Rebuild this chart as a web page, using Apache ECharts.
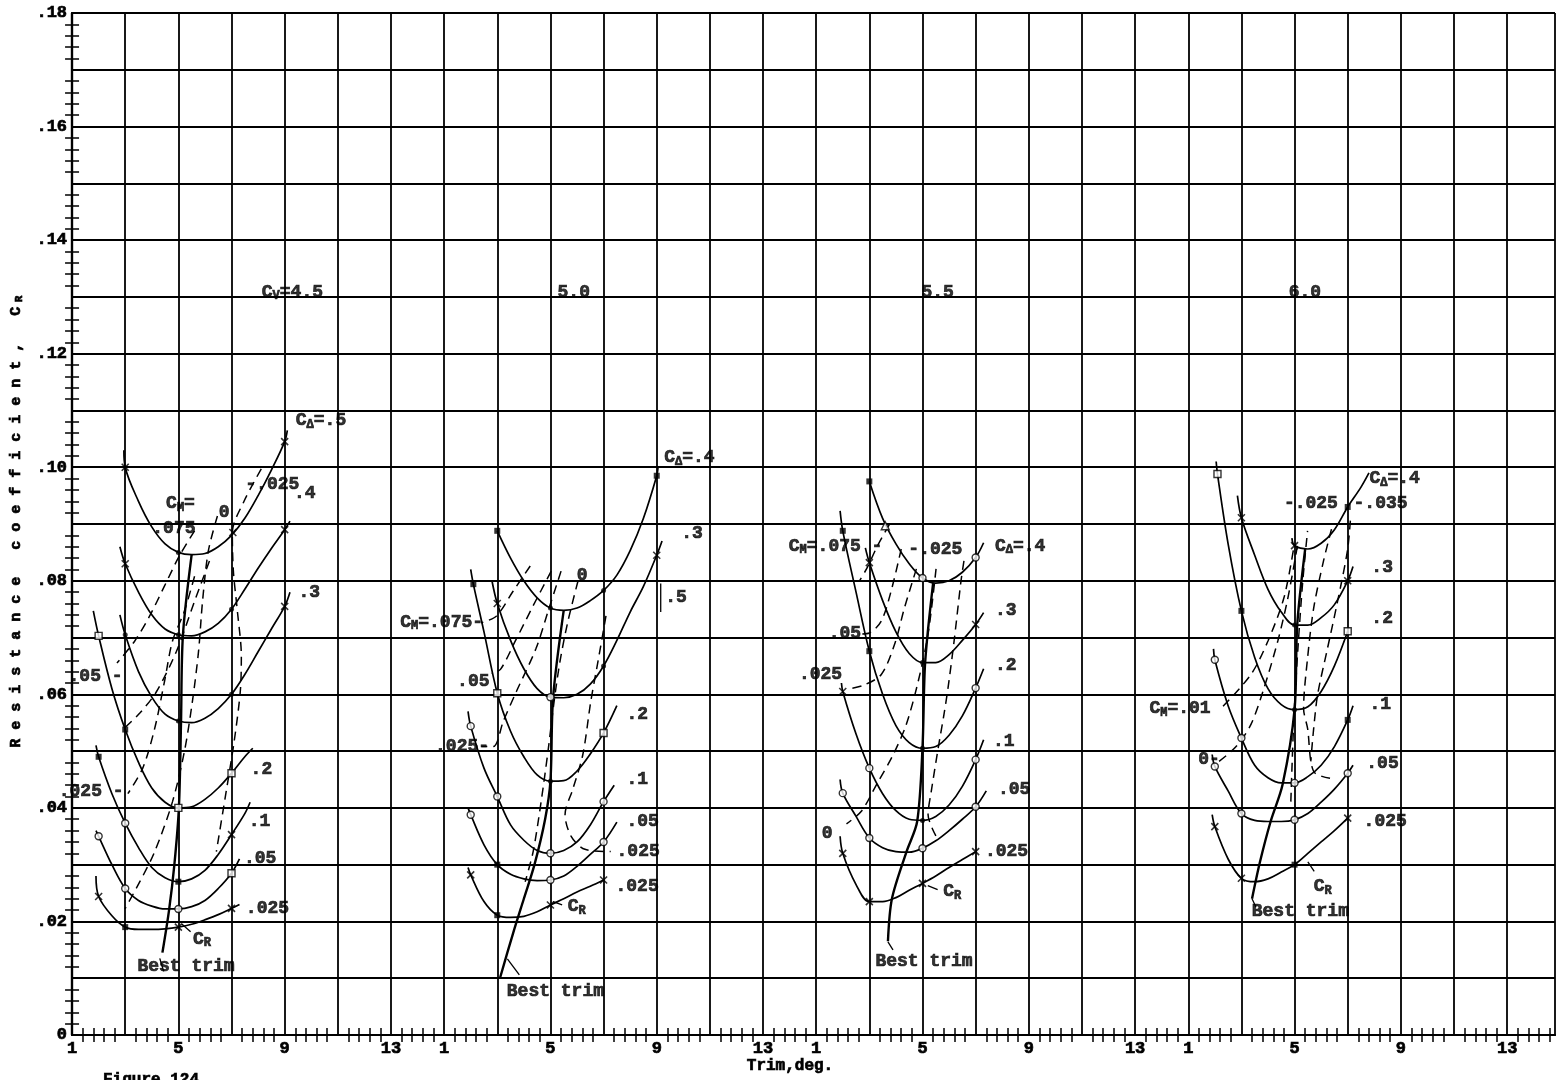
<!DOCTYPE html>
<html><head><meta charset="utf-8">
<script src="https://cdn.jsdelivr.net/npm/echarts/dist/echarts.min.js"></script>
<style>html,body{margin:0;background:#fff}#c{width:1561px;height:1080px}</style>
</head><body><div id="c"></div>
<script>
// ---------- DATA (trim deg, resistance coefficient C_R) ----------
// Panel 1 : C_V = 4.5   solid curves by C_Delta
const p1_d5   = [[2.95,0.103],[3,0.100],[3.5,0.094],[4,0.0895],[4.5,0.0865],[5,0.085],[5.5,0.0846],[6,0.0848],[6.5,0.086],[7,0.088],[7.5,0.091],[8,0.095],[8.5,0.0995],[9,0.1045],[9.1,0.1065]];
const p1_d4   = [[2.8,0.086],[3,0.083],[3.5,0.078],[4,0.074],[4.5,0.0715],[5,0.0705],[5.5,0.0703],[6,0.071],[6.5,0.0725],[7,0.075],[7.5,0.0785],[8,0.0822],[8.5,0.0857],[9,0.089],[9.2,0.0905]];
const p1_d3   = [[2.8,0.074],[3,0.0705],[3.5,0.064],[4,0.0595],[4.5,0.0565],[5,0.0553],[5.5,0.055],[6,0.0558],[6.5,0.0575],[7,0.060],[7.5,0.0635],[8,0.0675],[8.5,0.0715],[9,0.0755],[9.2,0.078]];
const p1_d2   = [[1.8,0.0747],[2,0.0703],[2.5,0.061],[3,0.0538],[3.5,0.048],[4,0.0435],[4.5,0.041],[5,0.040],[5.5,0.0402],[6,0.0415],[6.5,0.0435],[7,0.0461],[7.5,0.049],[7.8,0.0505]];
const p1_d1   = [[1.9,0.051],[2,0.049],[2.5,0.0425],[3,0.0373],[3.5,0.033],[4,0.0295],[4.5,0.0277],[5,0.027],[5.5,0.0275],[6,0.029],[6.5,0.0318],[7,0.0353],[7.5,0.039],[7.7,0.041]];
const p1_d05  = [[1.9,0.036],[2,0.035],[2.5,0.030],[3,0.0258],[3.5,0.0237],[4,0.0227],[4.5,0.0222],[5,0.0222],[5.5,0.0226],[6,0.0237],[6.5,0.0258],[7,0.0285],[7.3,0.031]];
const p1_d025 = [[1.9,0.028],[2,0.0244],[2.5,0.021],[3,0.019],[3.5,0.0186],[4,0.0186],[4.5,0.0187],[5,0.019],[5.5,0.0195],[6,0.0203],[6.5,0.0212],[7,0.0223],[7.3,0.023]];
const p1_best = [[4.4,0.0145],[4.65,0.022],[4.85,0.030],[5.02,0.040],[5.1,0.055],[5.17,0.0703],[5.5,0.0846]];
const p1_mA   = [[8.12,0.0997],[7.48,0.0941],[7.03,0.0885],[7.07,0.0817],[7.22,0.0747],[7.37,0.0667],[7.33,0.0605],[7.1,0.0517],[6.8,0.0429],[6.43,0.0323]];
const p1_mB   = [[6.47,0.0914],[6.13,0.0853],[5.91,0.0764],[5.76,0.0676],[5.53,0.0588],[5.23,0.050],[4.78,0.0411],[4.11,0.0323],[3.55,0.027],[2.99,0.0222]];
const p1_mC   = [[5.61,0.0888],[5.04,0.0844],[4.48,0.0791],[3.92,0.0738],[3.36,0.0694],[2.69,0.0655]];
const p1_mD   = [[6.17,0.0835],[5.61,0.0764],[4.93,0.0676],[4.18,0.0605],[3.55,0.0567],[2.91,0.0538]];
const p1_mE   = [[5.61,0.0808],[5.23,0.0747],[4.78,0.0694],[4.48,0.0623],[4.11,0.054],[3.66,0.047],[3.1,0.0425]];
const p1_marks = [[3,0.100,'x'],[5,0.085,'f'],[7.05,0.0885,'x'],[9,0.1045,'x'],[3,0.083,'x'],[5,0.0705,'f'],[7,0.075,'f'],[9,0.089,'x'],
  [3,0.0705,'f'],[5,0.0553,'f'],[7,0.060,'f'],[9,0.0755,'x'],[2,0.0703,'os'],[3,0.0538,'s'],[5,0.040,'os'],[7,0.0461,'os'],
  [2,0.049,'s'],[3,0.0373,'o'],[5,0.027,'s'],[7,0.0353,'x'],[2,0.035,'o'],[3,0.0258,'o'],[5,0.0222,'o'],[7,0.0285,'os'],
  [2,0.0244,'x'],[3,0.019,'s'],[5,0.019,'x'],[7,0.0223,'x']];
const p1_labels = [[8.12,0.1308,'C_V=4.5'],[9.4,0.1082,'C_Δ=.5'],[7.5,0.0969,'-.025'],[4.52,0.0936,'C_M='],[4.0,0.0893,'.075'],[6.5,0.092,'0'],
  [9.33,0.0953,'.4'],[9.5,0.078,'.3'],[0.85,0.0632,'.05 -'],[0.48,0.0429,'.025 -'],[7.7,0.0468,'.2'],[7.63,0.0376,'.1'],
  [7.45,0.0311,'.05'],[7.52,0.0222,'.025'],[5.53,0.0169,'C_R'],[3.44,0.012,'Best trim']];
const p1_leaders = [[[5.46,0.0182],[5.12,0.0196]],[[4.3,0.0135],[4.45,0.0112]]];

// Panel 2 : C_V = 5.0
const p2_d4   = [[3,0.0888],[3.5,0.084],[4,0.080],[4.5,0.077],[5,0.0752],[5.5,0.0748],[6,0.0752],[6.5,0.0765],[7,0.0783],[7.5,0.081],[8,0.0853],[8.5,0.091],[9,0.0985],[9.05,0.100]];
const p2_d3   = [[2.8,0.080],[3,0.076],[3.5,0.0695],[4,0.0645],[4.5,0.061],[5,0.0595],[5.5,0.0594],[6,0.060],[6.5,0.0618],[7,0.065],[7.5,0.0695],[8,0.0745],[8.5,0.079],[9,0.0845],[9.2,0.087]];
const p2_d2   = [[2,0.082],[2.1,0.0794],[2.5,0.071],[3,0.0602],[3.5,0.0535],[4,0.049],[4.5,0.0458],[5,0.0447],[5.5,0.0448],[6,0.0465],[6.5,0.0495],[7,0.0532],[7.5,0.058]];
const p2_d1   = [[1.9,0.057],[2,0.0544],[2.5,0.047],[3,0.042],[3.5,0.037],[4,0.0343],[4.5,0.0325],[5,0.032],[5.5,0.0325],[6,0.034],[6.5,0.037],[7,0.0411],[7.4,0.044]];
const p2_d05  = [[1.9,0.040],[2,0.0388],[2.5,0.0335],[3,0.030],[3.5,0.0283],[4,0.0275],[4.5,0.0272],[5,0.0273],[5.5,0.028],[6,0.0297],[6.5,0.0318],[7,0.034],[7.5,0.0375]];
const p2_d025 = [[1.9,0.0295],[2,0.0282],[2.5,0.0235],[3,0.0211],[3.5,0.0207],[4,0.0209],[4.5,0.0217],[5,0.0229],[5.5,0.024],[6,0.0252],[6.5,0.0262],[7,0.0273]];
const p2_best = [[3.1,0.010],[3.6,0.018],[4.0,0.024],[4.4,0.030],[4.8,0.038],[5.0,0.0447],[5.1,0.0594],[5.5,0.0748]];
const p2_mA   = [[4.24,0.0826],[3.6,0.0782],[2.97,0.0738],[2.4,0.0726]];
const p2_mB   = [[5.03,0.0817],[4.35,0.0756],[3.68,0.0694],[3.12,0.0644],[2.78,0.0637]];
const p2_mC   = [[5.4,0.0817],[4.95,0.0752],[4.46,0.0681],[3.72,0.0605],[3.23,0.0553],[2.85,0.0508],[2.4,0.0508]];
const p2_mD   = [[6.04,0.080],[5.66,0.0729],[5.36,0.0658],[5.14,0.0588],[4.91,0.050],[4.65,0.0411],[4.35,0.0323],[4.05,0.027]];
const p2_mE   = [[7.09,0.0738],[6.79,0.0658],[6.52,0.0588],[6.22,0.0494],[5.85,0.0434],[5.55,0.0388],[5.78,0.035],[6.3,0.0327],[7.27,0.0323]];
const p2_marks = [[3,0.0888,'s'],[5,0.0752,'f'],[7,0.0783,'f'],[9,0.0985,'s'],[3,0.076,'x'],[5,0.0595,'o'],[7,0.065,'f'],[9,0.0845,'x'],
  [2.1,0.0794,'s'],[3,0.0602,'os'],[5,0.0447,'f'],[7,0.0532,'os'],[2,0.0544,'o'],[3,0.042,'o'],[5,0.032,'o'],[7,0.0411,'o'],
  [2,0.0388,'o'],[3,0.030,'s'],[5,0.0273,'o'],[7,0.034,'o'],[2,0.0282,'x'],[3,0.0211,'s'],[5,0.0229,'x'],[7,0.0273,'x']];
const p2_labels = [[5.25,0.1308,'5.0'],[9.26,0.1017,'C_Δ=.4'],[9.9,0.0883,'.3'],[9.3,0.077,'.5'],[5.97,0.081,'0'],[-0.67,0.0727,'C_M=.075-'],
  [1.47,0.0623,'.05'],[0.64,0.0508,'.025-'],[7.84,0.0565,'.2'],[7.84,0.045,'.1'],[7.84,0.0376,'.05'],[7.47,0.0323,'.025'],
  [7.43,0.0261,'.025'],[5.63,0.0226,'C_R'],[3.34,0.0076,'Best trim']];
const p2_leaders = [[[5.44,0.0229],[5.1,0.0235]],[[3.38,0.0134],[3.83,0.0106]],[[9.15,0.0795],[9.15,0.0745]]];

// Panel 3 : C_V = 5.5
const p3_d4   = [[3,0.0975],[3.5,0.091],[4,0.0865],[4.5,0.083],[5,0.0805],[5.5,0.0796],[6,0.080],[6.5,0.0815],[7,0.0841],[7.3,0.0867]];
const p3_d3   = [[2.85,0.0858],[3,0.0832],[3.5,0.0765],[4,0.071],[4.5,0.0672],[5,0.0656],[5.5,0.0656],[6,0.067],[6.5,0.0695],[7,0.0723],[7.3,0.0744]];
const p3_d2   = [[1.9,0.0923],[2,0.0888],[2.5,0.078],[3,0.0676],[3.5,0.060],[4,0.0545],[4.5,0.0515],[5,0.0505],[5.5,0.0508],[6,0.0528],[6.5,0.0562],[7,0.0611],[7.3,0.0645]];
const p3_d1   = [[1.95,0.062],[2,0.0605],[2.5,0.053],[3,0.047],[3.5,0.0425],[4,0.0395],[4.5,0.038],[5,0.0378],[5.5,0.0385],[6,0.0405],[6.5,0.0438],[7,0.0485],[7.3,0.052]];
const p3_d05  = [[1.9,0.045],[2,0.0426],[2.5,0.0385],[3,0.0347],[3.5,0.033],[4,0.0323],[4.5,0.0322],[5,0.0329],[5.5,0.0342],[6,0.036],[6.5,0.038],[7,0.0402],[7.4,0.043]];
const p3_d025 = [[1.9,0.035],[2,0.032],[2.5,0.0265],[3,0.0235],[3.5,0.0235],[4,0.0242],[4.5,0.0255],[5,0.0267],[5.5,0.028],[6,0.0295],[6.5,0.0309],[7,0.0323]];
const p3_best = [[3.7,0.0165],[3.85,0.024],[4.4,0.0323],[4.8,0.0376],[5.0,0.0505],[5.1,0.0656],[5.4,0.0796]];
const p3_mA   = [[3.75,0.0899],[3.3,0.0861],[2.93,0.0824],[2.63,0.080]];
const p3_mB   = [[4.2,0.0856],[3.82,0.0782],[3.45,0.0729],[3.0,0.0708],[2.63,0.0706]];
const p3_mC   = [[4.77,0.0821],[4.32,0.0752],[3.95,0.0688],[3.45,0.0635],[2.78,0.0616],[2.14,0.0609]];
const p3_mD   = [[5.51,0.0821],[5.21,0.0706],[4.84,0.0623],[4.39,0.0547],[3.9,0.0494],[3.27,0.0441],[2.7,0.0394],[2.14,0.0372]];
const p3_mE   = [[6.56,0.0835],[6.45,0.080],[6.19,0.0694],[5.96,0.0611],[5.81,0.0565],[5.59,0.0505],[5.33,0.0429],[5.21,0.0388],[5.51,0.035]];
const p3_marks = [[3,0.0975,'s'],[3.6,0.0897,'t'],[5,0.0805,'o'],[7,0.0841,'o'],[3,0.0832,'x'],[5,0.0656,'f'],[7,0.0723,'x'],
  [2,0.0888,'s'],[3,0.0676,'s'],[5,0.0505,'f'],[7,0.0611,'o'],[2,0.0605,'x'],[3,0.047,'o'],[5,0.0378,'f'],[7,0.0485,'o'],
  [2,0.0426,'o'],[3,0.0347,'o'],[5,0.0329,'o'],[7,0.0402,'o'],[2,0.032,'x'],[3,0.0235,'x'],[5,0.0267,'x'],[7,0.0323,'x']];
const p3_labels = [[4.94,0.1308,'5.5'],[7.71,0.0861,'C_Δ=.4'],[4.45,0.0856,'-.025'],[-0.05,0.0861,'C_M=.075 -'],[7.71,0.0748,'.3'],
  [1.45,0.0708,'.05'],[0.33,0.0635,'.025'],[7.71,0.065,'.2'],[7.63,0.0517,'.1'],[7.82,0.0432,'.05'],[1.19,0.0355,'0'],
  [7.33,0.0323,'.025'],[5.76,0.0252,'C_R'],[3.21,0.0129,'Best trim']];
const p3_leaders = [[[5.57,0.0256],[5.2,0.0263]],[[3.7,0.0164],[3.89,0.0150]]];

// Panel 4 : C_V = 6.0
const p4_d4   = [[4.9,0.0875],[5,0.0862],[5.5,0.0856],[6,0.0866],[6.5,0.089],[7,0.093],[7.5,0.0965],[7.8,0.099]];
const p4_d3   = [[2.85,0.095],[3,0.0911],[3.5,0.0845],[4,0.0785],[4.5,0.0745],[5,0.0722],[5.5,0.0722],[6,0.0735],[6.5,0.0758],[7,0.080],[7.2,0.0825]];
const p4_d2   = [[2.05,0.101],[2.1,0.0988],[2.5,0.0865],[3,0.0747],[3.5,0.0665],[4,0.061],[4.5,0.0582],[5,0.0573],[5.5,0.0578],[6,0.0605],[6.5,0.065],[7,0.0711]];
const p4_d1   = [[1.95,0.068],[2,0.0661],[2.5,0.058],[3,0.0523],[3.5,0.0475],[4,0.0453],[4.5,0.0444],[5,0.0444],[5.5,0.0455],[6,0.0475],[6.5,0.0508],[7,0.0555],[7.2,0.058]];
const p4_d05  = [[1.9,0.0494],[2,0.0473],[2.5,0.043],[3,0.039],[3.5,0.0378],[4,0.0376],[4.5,0.0376],[5,0.0379],[5.5,0.039],[6,0.041],[6.5,0.0433],[7,0.0461],[7.2,0.0475]];
const p4_d025 = [[1.9,0.0388],[2,0.0367],[2.5,0.031],[3,0.0276],[3.5,0.027],[4,0.0275],[4.5,0.0287],[5,0.030],[5.5,0.032],[6,0.034],[6.5,0.036],[7,0.0382]];
const p4_best = [[3.4,0.024],[3.7,0.0305],[4.1,0.0376],[4.55,0.0441],[5.0,0.0573],[5.1,0.0722],[5.4,0.0856]];
const p4_mA   = [[2.31,0.0579],[3.36,0.0635],[4.0,0.0694],[4.6,0.077],[4.97,0.0858]];
const p4_mB   = [[2.16,0.0482],[2.8,0.0508],[3.36,0.0547],[3.85,0.0611],[4.37,0.0694],[4.75,0.077],[5.12,0.0865]];
const p4_mC   = [[4.86,0.0411],[4.97,0.0553],[5.12,0.0676],[5.31,0.080],[5.49,0.0888]];
const p4_mD   = [[6.39,0.0891],[6.09,0.0835],[5.72,0.0752],[5.49,0.0664],[5.34,0.0575],[5.49,0.054],[5.72,0.0464],[6.36,0.0452]];
const p4_mE   = [[7.1,0.0906],[6.99,0.0853],[6.62,0.0764],[6.24,0.0681],[5.87,0.060],[5.72,0.054],[5.61,0.0482]];
const p4_marks = [[5,0.0862,'x'],[7,0.093,'s'],[3,0.0911,'x'],[5,0.0722,'f'],[7,0.080,'x'],
  [2.1,0.0988,'os'],[3,0.0747,'s'],[5,0.0573,'f'],[7,0.0711,'os'],[2,0.0661,'o'],[3,0.0523,'o'],[5,0.0444,'o'],[7,0.0555,'s'],
  [2,0.0473,'o'],[3,0.039,'o'],[5,0.0379,'o'],[7,0.0461,'o'],[2,0.0367,'x'],[3,0.0276,'x'],[5,0.030,'s'],[7,0.0382,'x']];
const p4_labels = [[4.76,0.1308,'6.0'],[7.8,0.098,'C_Δ=.4'],[4.58,0.0936,'-.025'],[7.2,0.0936,'-.035'],[7.87,0.0824,'.3'],
  [7.87,0.0734,'.2'],[7.8,0.0583,'.1'],[7.68,0.0478,'.05'],[7.58,0.0376,'.025'],[-0.48,0.0575,'C_M=.01'],[1.36,0.0485,'0-'],
  [5.7,0.0261,'C_R'],[3.37,0.0217,'Best trim']];
const p4_leaders = [[[5.74,0.0288],[5.5,0.0305]],[[3.4,0.024],[3.55,0.0225]]];

// axis tick labels
const xTickTrims = [1,5,9,13];
const PANEL_SPAN = 14;   // trim units between panel origins on the shared axis

// ---------- BUILD ----------
const FONT = 'Liberation Mono';
const solids = [[p1_d5,p1_d4,p1_d3,p1_d2,p1_d1,p1_d05,p1_d025],[p2_d4,p2_d3,p2_d2,p2_d1,p2_d05,p2_d025],
                [p3_d4,p3_d3,p3_d2,p3_d1,p3_d05,p3_d025],[p4_d4,p4_d3,p4_d2,p4_d1,p4_d05,p4_d025]];
const dashes = [[p1_mA,p1_mB,p1_mC,p1_mD,p1_mE],[p2_mA,p2_mB,p2_mC,p2_mD,p2_mE],[p3_mA,p3_mB,p3_mC,p3_mD,p3_mE],[p4_mA,p4_mB,p4_mC,p4_mD,p4_mE]];
const bests = [p1_best,p2_best,p3_best,p4_best];
const marks = [p1_marks,p2_marks,p3_marks,p4_marks];
const labels = [p1_labels,p2_labels,p3_labels,p4_labels];
const leaders = [p1_leaders,p2_leaders,p3_leaders,p4_leaders];
const U = (p,t)=> p*PANEL_SPAN + t - 1;

const series = [];
solids.forEach((arr,p)=>arr.forEach(pts=>series.push({type:'line',data:pts.map(([t,c])=>[U(p,t),c]),smooth:0.35,symbol:'none',
  lineStyle:{color:'#000',width:1.7},z:3,silent:true})));
dashes.forEach((arr,p)=>arr.forEach(pts=>series.push({type:'line',data:pts.map(([t,c])=>[U(p,t),c]),smooth:0.3,symbol:'none',
  lineStyle:{color:'#000',width:1.5,type:[9,6]},z:3,silent:true})));
bests.forEach((pts,p)=>series.push({type:'line',data:pts.map(([t,c])=>[U(p,t),c]),smooth:0.3,symbol:'none',
  lineStyle:{color:'#000',width:2.4},z:3,silent:true}));
leaders.forEach((arr,p)=>arr.forEach(pts=>series.push({type:'line',data:pts.map(([t,c])=>[U(p,t),c]),symbol:'none',
  lineStyle:{color:'#000',width:1.3},z:3,silent:true})));

const SYM = {
  x:{symbol:'path://M0,0L10,10M10,0L0,10',size:7,style:{color:'rgba(0,0,0,0)',borderColor:'#000',borderWidth:1.6}},
  o:{symbol:'circle',size:7,style:{color:'#fff',borderColor:'#000',borderWidth:1.4}},
  s:{symbol:'rect',size:6,style:{color:'#000'}},
  os:{symbol:'rect',size:7,style:{color:'#fff',borderColor:'#000',borderWidth:1.4}},
  f:{symbol:'circle',size:5,style:{color:'#000'}},
  t:{symbol:'triangle',size:8,style:{color:'#fff',borderColor:'#000',borderWidth:1.4}}
};
Object.keys(SYM).forEach(k=>{
  const data=[]; marks.forEach((arr,p)=>arr.forEach(([t,c,ty])=>{ if(ty===k) data.push([U(p,t),c]); }));
  series.push({type:'scatter',data,symbol:SYM[k].symbol,symbolSize:SYM[k].size,itemStyle:SYM[k].style,z:5,silent:true});
});

function toRich(s){
  return s.split(/(C_.)/).filter(x=>x).map(x=> (x.length===3 && x.startsWith('C_')) ? '{m|C}{s|'+x[2]+'}' : '{m|'+x+'}').join('');
}
const STROKE = {textBorderColor:'#000',textBorderWidth:0.7};
const RICH = {m:Object.assign({fontFamily:FONT,fontWeight:'bold',fontSize:18,color:'#000',lineHeight:20},STROKE),
              s:Object.assign({fontFamily:FONT,fontWeight:'bold',fontSize:12,color:'#000',lineHeight:10,verticalAlign:'bottom'},STROKE)};
const labData=[]; labels.forEach((arr,p)=>arr.forEach(([t,c,txt])=>labData.push({value:[U(p,t),c],name:txt})));
series.push({type:'scatter',data:labData,symbolSize:1,itemStyle:{color:'rgba(0,0,0,0)'},clip:false,z:6,silent:true,
  label:{show:true,position:'right',distance:0,formatter:(q)=>toRich(q.name),rich:RICH}});

const yName = 'Resistance coefficient, C'.split('').map(ch=>'{c|'+(ch===' '?'\u00a0':ch)+'}').join('')+'{r|R}';

const chart = echarts.init(document.getElementById('c'),null,{renderer:'canvas'});
const axisFont = Object.assign({fontFamily:FONT,fontWeight:'bold',fontSize:17,color:'#000'},STROKE);
const tickCommon = {axisTick:{show:true,inside:true,length:0,lineStyle:{color:'#000'}},
  minorTick:{show:true,splitNumber:5,length:7,lineStyle:{color:'#000',width:1.5}}};
chart.setOption({
  animation:false,
  backgroundColor:'#fff',
  grid:{left:66,right:6,top:13,bottom:45},
  xAxis:[Object.assign({type:'value',min:0,max:55.8,interval:2,position:'bottom',
    axisLine:{show:true,lineStyle:{color:'#000',width:2.2}},
    axisLabel:Object.assign({margin:5,showMaxLabel:false,formatter:(v)=>{const r=Math.round(v); if(Math.abs(v-r)>1e-6) return ''; const t=r%PANEL_SPAN+1; return xTickTrims.includes(t)?String(t):'';}},axisFont),
    splitLine:{show:true,lineStyle:{color:'#000',width:1.8}}},tickCommon),
   Object.assign({type:'value',min:0,max:55.8,interval:2,position:'top',
    axisLine:{show:true,lineStyle:{color:'#000',width:2.2}},
    axisLabel:{show:false},splitLine:{show:false}},tickCommon)],
  yAxis:[Object.assign({type:'value',min:0,max:0.18,interval:0.01,position:'left',
    axisLine:{show:true,lineStyle:{color:'#000',width:2.2}},
    axisLabel:Object.assign({margin:5,formatter:(v)=>{const k=Math.round(v*100); if(k%2) return ''; return k===0?'0':'.'+String(k).padStart(2,'0');}},axisFont),
    splitLine:{show:true,lineStyle:{color:'#000',width:1.8}},
    name:yName,nameLocation:'middle',nameRotate:90,nameGap:44,
    nameTextStyle:{rich:{c:Object.assign({fontFamily:FONT,fontWeight:'bold',fontSize:15,color:'#000',width:18,align:'center',lineHeight:18},STROKE),
                         r:Object.assign({fontFamily:FONT,fontWeight:'bold',fontSize:11,color:'#000',lineHeight:10,verticalAlign:'bottom'},STROKE)}}},tickCommon),
   Object.assign({type:'value',min:0,max:0.18,interval:0.01,position:'right',
    axisLine:{show:true,lineStyle:{color:'#000',width:2.2}},
    axisLabel:{show:false},splitLine:{show:false}},tickCommon)],
  graphic:[
    {type:'text',x:790,y:1066,style:{text:'Trim,deg.',fontFamily:FONT,fontWeight:'bold',fontSize:16,fill:'#000',stroke:'#000',lineWidth:0.7,align:'center',verticalAlign:'middle'}},
    {type:'text',x:103,y:1072,style:{text:'Figure 124',fontFamily:FONT,fontWeight:'bold',fontSize:16,fill:'#000',stroke:'#000',lineWidth:0.7,align:'left',verticalAlign:'top'}}
  ],
  series
});
</script></body></html>
